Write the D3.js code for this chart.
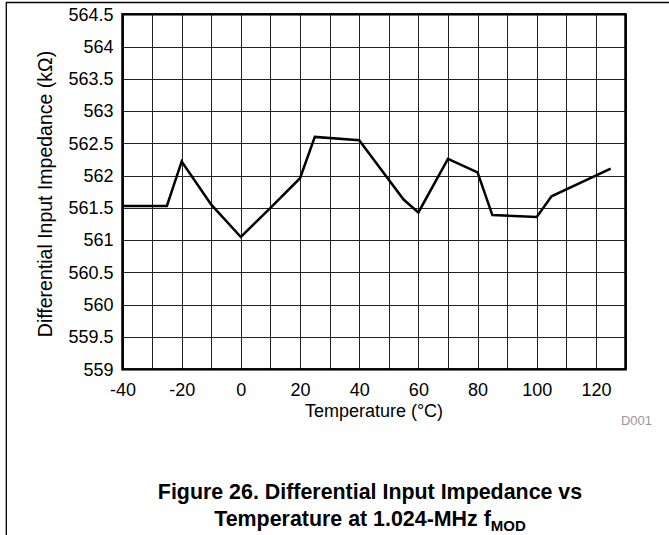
<!DOCTYPE html>
<html><head><meta charset="utf-8">
<script src="https://cdn.jsdelivr.net/npm/d3@7/dist/d3.min.js"></script>
<style>body{margin:0;background:#fff}svg{display:block}text{font-family:"Liberation Sans",Arial,sans-serif}</style>
</head><body>
<svg id="c" width="669" height="535"></svg>
<script>
const temperature = [-40, -25, -20, -10, 0, 10, 20, 25, 40, 55, 60, 70, 80, 85, 100, 105, 125];
const impedance = [561.53, 561.53, 562.22, 561.55, 561.05, 561.5, 561.96, 562.6, 562.55, 561.63, 561.43, 562.26, 562.05, 561.39, 561.36, 561.68, 562.11];
const xTicks = [-40, -20, 0, 20, 40, 60, 80, 100, 120];
const yTicks = [559, 559.5, 560, 560.5, 561, 561.5, 562, 562.5, 563, 563.5, 564, 564.5];
const xGrid = d3.range(-40, 131, 10);

const svg = d3.select("#c");
const FF = '"Liberation Sans",Arial,sans-serif';
const L = 122.5, R = 625.5, T = 14.3, B = 369.3;
const x = d3.scaleLinear().domain([-40, 130]).range([L, R]);
const y = d3.scaleLinear().domain([559, 564.5]).range([B, T]);

// page frame
svg.append("line").attr("x1", 6).attr("x2", 669).attr("y1", 2.5).attr("y2", 2.5).attr("stroke", "#000").attr("stroke-width", 1.3);
svg.append("line").attr("x1", 6.3).attr("x2", 6.3).attr("y1", 2).attr("y2", 535).attr("stroke", "#000").attr("stroke-width", 1.3);

// grid
svg.append("g").selectAll("line").data(xGrid).join("line")
  .attr("x1", d => Math.round(x(d)) + 0.5).attr("x2", d => Math.round(x(d)) + 0.5)
  .attr("y1", T).attr("y2", B).attr("stroke", "#222").attr("stroke-width", 1);
svg.append("g").selectAll("line").data(yTicks).join("line")
  .attr("y1", d => Math.round(y(d)) + 0.5).attr("y2", d => Math.round(y(d)) + 0.5)
  .attr("x1", L).attr("x2", R).attr("stroke", "#222").attr("stroke-width", 1);

// axes
const xAxis = d3.axisBottom(x).tickValues(xTicks).tickSize(0).tickPadding(14).tickFormat(d => String(d));
const gx = svg.append("g").attr("transform", `translate(0,${B})`).call(xAxis);
gx.select(".domain").remove();
gx.selectAll("text").attr("font-size", 18).attr("fill", "#000").style("font-family", FF);
const yAxis = d3.axisLeft(y).tickValues(yTicks).tickSize(0).tickPadding(9).tickFormat(d => String(d));
const gy = svg.append("g").attr("transform", `translate(${L},0)`).call(yAxis);
gy.select(".domain").remove();
gy.selectAll("text").attr("font-size", 18).attr("fill", "#000").style("font-family", FF);

// frame
svg.append("rect").attr("x", L).attr("y", T).attr("width", R - L).attr("height", B - T)
  .attr("fill", "none").attr("stroke", "#000").attr("stroke-width", 2.5);

// data line
const line = d3.line().x((d, i) => x(temperature[i])).y(d => y(d));
svg.append("path").datum(impedance).attr("d", line).attr("fill", "none")
  .attr("stroke", "#000").attr("stroke-width", 2.5).attr("stroke-linejoin", "miter");

// labels
svg.append("text").attr("x", (L + R) / 2).attr("y", 417).attr("text-anchor", "middle").attr("font-size", 18).text("Temperature (°C)");
svg.append("text").attr("transform", `translate(51.5,194) rotate(-90)`).attr("text-anchor", "middle").attr("font-size", 19.5).text("Differential Input Impedance (kΩ)");
svg.append("text").attr("x", 652).attr("y", 425).attr("text-anchor", "end").attr("font-size", 13).attr("fill", "#999").text("D001");

const t1 = svg.append("text").attr("x", 370).attr("y", 499).attr("text-anchor", "middle").attr("font-size", 21.4).attr("font-weight", "bold");
t1.text("Figure 26. Differential Input Impedance vs");
const t2 = svg.append("text").attr("x", 370).attr("y", 526).attr("text-anchor", "middle").attr("font-size", 21.4).attr("font-weight", "bold");
t2.append("tspan").text("Temperature at 1.024-MHz f");
t2.append("tspan").attr("font-size", 15).attr("dy", 5).text("MOD");
</script>
</body></html>
